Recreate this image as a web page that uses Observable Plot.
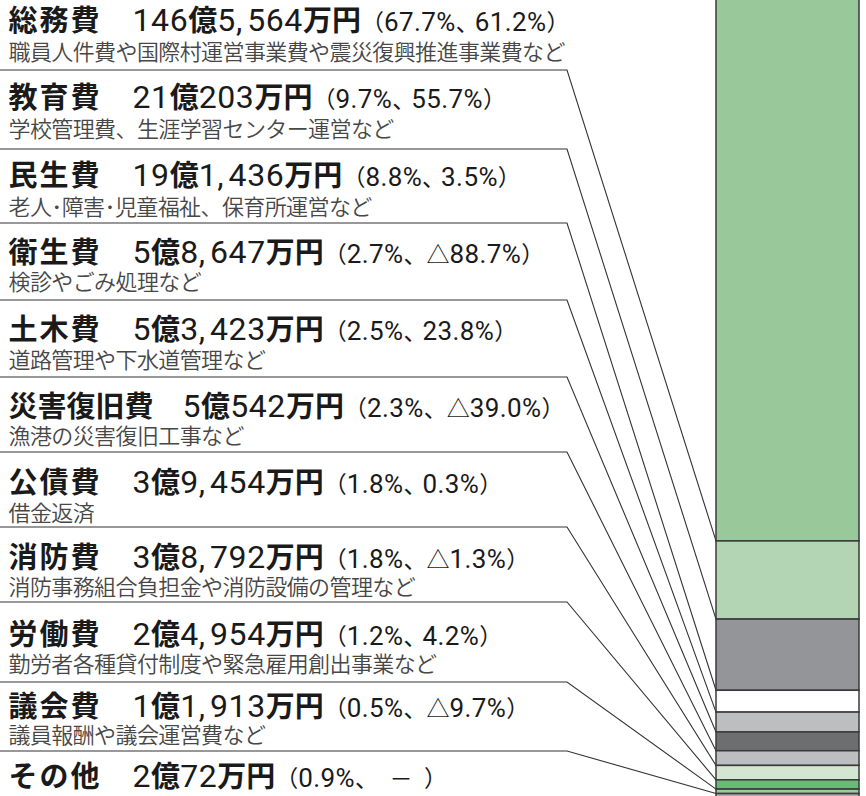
<!DOCTYPE html>
<html><head><meta charset="utf-8">
<script src="https://cdn.jsdelivr.net/npm/d3@7"></script>
<script src="https://cdn.jsdelivr.net/npm/@observablehq/plot@0.6"></script>
<style>
html,body{margin:0;padding:0;background:#fff;}
#chart{width:866px;height:796px;overflow:hidden;}
</style></head><body><div id="chart"></div>
<script>
// ---- data ----
const categories = ["総務費","教育費","民生費","衛生費","土木費","災害復旧費","公債費","消防費","労働費","議会費","その他"];
const amounts = [1465564, 210203, 191436, 58647, 53423, 50542, 39454, 38792, 24954, 11913, 20072]; // 万円
const amountLabels = ["146億5,564万円","21億203万円","19億1,436万円","5億8,647万円","5億3,423万円","5億542万円","3億9,454万円","3億8,792万円","2億4,954万円","1億1,913万円","2億72万円"];
const shares = ["67.7%","9.7%","8.8%","2.7%","2.5%","2.3%","1.8%","1.8%","1.2%","0.5%","0.9%"];
const changes = ["61.2%","55.7%","3.5%","△88.7%","23.8%","△39.0%","0.3%","△1.3%","4.2%","△9.7%","\u2002－\u2002"];
const descriptions = [
  "職員人件費や国際村運営事業費や震災復興推進事業費など",
  "学校管理費、生涯学習センター運営など",
  "老人･障害･児童福祉、保育所運営など",
  "検診やごみ処理など",
  "道路管理や下水道管理など",
  "漁港の災害復旧工事など",
  "借金返済",
  "消防事務組合負担金や消防設備の管理など",
  "勤労者各種貸付制度や緊急雇用創出事業など",
  "議員報酬や議会運営費など"
];
const colors = ["#99c89a","#b4d5b4","#939598","#ffffff","#bcbec0","#6d6e70","#bcbec0","#d2e6d1","#6bb977","#9dcb9d","#a7a9ac"];

// ---- layout ----
const headY = [27, 104, 182, 259, 336, 413, 489, 564, 641, 713, 783];
const subY  = [52, 129, 207, 282, 360, 436, 513, 587, 664, 735];
const sepY  = [70, 149, 223, 300, 377, 452, 527, 602, 682, 751];
const nameSpacing = [2, 2, 2, 2, 2, 0, 2, 2, 2, 2, 2];
const elbowX = 567;

const total = d3.sum(amounts);
const cumulative = Array.from(d3.cumsum(amounts));
const items = categories.map((c, i) => ({category: c, amount: amounts[i], group: "歳出"}));

const CJK = "'Noto Sans CJK JP', 'Noto Sans CJK SC', sans-serif";
const CJKLIGHT = "'Noto Sans CJK JP DemiLight', 'Noto Sans CJK JP Light', 'Noto Sans CJK JP', sans-serif";
const NUM = "Roboto, 'Liberation Sans', 'Noto Sans CJK JP', sans-serif";

const leaders = (index, scales) => {
  const g = d3.create("svg:g").attr("fill", "none").attr("stroke", "#333").attr("stroke-width", 1.1);
  const bx = scales.x("歳出");
  sepY.forEach((sy, i) => {
    const by = scales.y(cumulative[i]);
    g.append("path").attr("d", `M0,${sy}H${elbowX}L${bx},${by}`);
  });
  return g.node();
};

const headMarks = categories.map((c, i) => Plot.text([c], {
  text: d => d, frameAnchor: "top-left", dx: 8, dy: headY[i],
  lineAnchor: "middle", textAnchor: "start", fill: "#1a1a1a", ariaDescription: "heading"
}));
const subMarks = subY.map((y, i) => Plot.text([descriptions[i]], {
  text: d => d, frameAnchor: "top-left", dx: 8, dy: y,
  lineAnchor: "middle", textAnchor: "start", fill: "#474747",
  fontSize: 22, fontFamily: CJKLIGHT, ariaDescription: "sub"
}));

const fig = Plot.plot({
  width: 866, height: 796,
  marginTop: 0, marginRight: 0, marginBottom: 0, marginLeft: 0,
  style: {background: "#fff", overflow: "hidden"},
  x: {type: "band", domain: ["歳出"], range: [716, 859], padding: 0, axis: null},
  y: {domain: [0, total], range: [-4, 801], axis: null},
  color: {domain: categories, range: colors},
  marks: [
    leaders,
    Plot.barY(items, {x: "group", y: "amount", fill: "category", stroke: "#3a3a3a", strokeWidth: 1.5, inset: 0}),
    ...headMarks,
    ...subMarks
  ]
});

// rich text styling of headings: numbers in Roboto, kanji in Noto CJK
function appendRuns(sel, str, size, numSize, cjkWeight, numWeight, ls) {
  const parts = str.match(/,|[0-9.%]+|[^0-9.,%]+/g) || [];
  parts.forEach(p => {
    const ascii = /^[0-9.,%]+$/.test(p);
    sel.append("tspan")
      .attr("font-family", ascii ? NUM : CJK)
      .attr("font-size", ascii ? numSize : size)
      .attr("font-weight", ascii ? numWeight : cjkWeight)
      .attr("letter-spacing", p === "," ? 5 : ascii ? ls : (p === "、" ? -4 : 0))
      .text(p);
  });
}
d3.select(fig).selectAll('g[aria-description="heading"] text').each(function(_, j) {
  const t = d3.select(this).style("white-space", "pre");
  t.text(null);
  t.append("tspan").attr("font-family", CJK).attr("font-weight", 700).attr("font-size", 29)
    .attr("letter-spacing", nameSpacing[j]).text(categories[j] + "　");
  appendRuns(t, amountLabels[j], 29, 32, 700, 400, 0.6);
  appendRuns(t, "（" + shares[j] + "、" + changes[j] + "）", 23, 26, 400, 400, 0.4);
});
d3.select(fig).selectAll('g[aria-description="sub"] text').attr("letter-spacing", -0.6).attr("font-weight", 300);

document.getElementById("chart").appendChild(fig);
</script>
</body></html>
